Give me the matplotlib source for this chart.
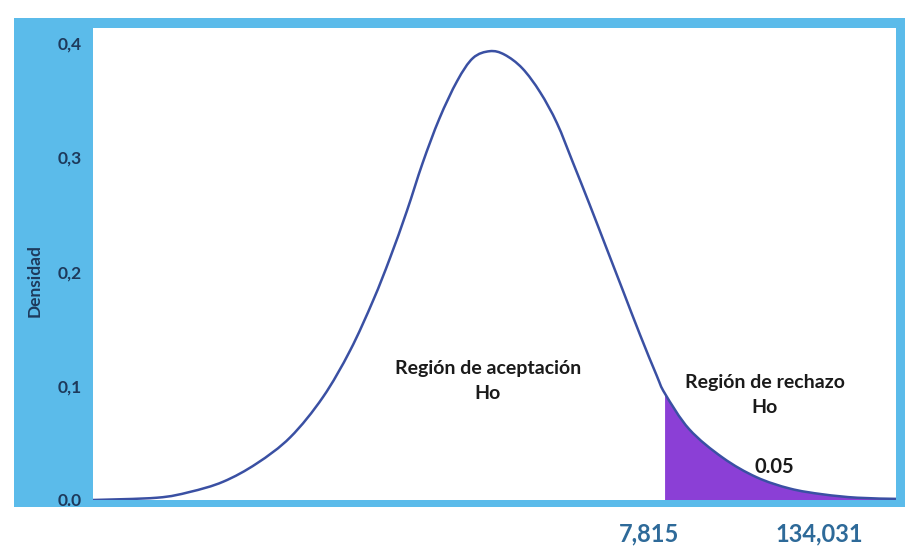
import matplotlib
matplotlib.use("Agg")
import matplotlib.pyplot as plt
from matplotlib.patches import Rectangle, PathPatch
from matplotlib.path import Path
import numpy as np

# ---- data ----
x_vals = [-3.78, -3.17, -2.86, -2.54, -2.22, -1.90, -1.59, -1.33, -1.11, -0.95,
          -0.79, -0.64, -0.48, -0.31, -0.16, 0.00, 0.14, 0.31, 0.48,
          0.64, 0.79, 0.95, 1.11, 1.27, 1.43, 1.59, 1.67, 1.90, 2.22, 2.54,
          2.86, 3.17, 3.50, 3.87]
density = [0.000, 0.002, 0.007, 0.016, 0.032, 0.055, 0.090, 0.131, 0.175, 0.212,
           0.253, 0.295, 0.334, 0.367, 0.387, 0.393, 0.390, 0.378, 0.357,
           0.330, 0.296, 0.259, 0.221, 0.183, 0.145, 0.109, 0.093, 0.062, 0.037, 0.020,
           0.010, 0.005, 0.002, 0.001]
critical = 1.67
y_ticks = [0.0, 0.1, 0.2, 0.3, 0.4]
y_tick_labels = ["0.0", "0,1", "0,2", "0,3", "0,4"]
x_tick_pos = [1.52, 3.14]
x_tick_labels = ["7,815", "134,031"]
alpha_label = "0.05"
accept_label = "Región de aceptación\nHo"
reject_label = "Región de rechazo\nHo"
y_label = "Densidad"

# ---- styling ----
FRAME = "#5BBBEA"
LINE = "#3A50A3"
FILL = "#8B3FD6"
NAVY = "#1E3A5C"
XLAB = "#2E6A99"
FONT = "Lato"

W, H = 906, 560
fig = plt.figure(figsize=(W / 100, H / 100), dpi=100, facecolor="white")

fig.patches.append(Rectangle((14 / W, 1 - 507 / H), (905 - 14) / W, (507 - 18) / H,
                             transform=fig.transFigure, facecolor=FRAME,
                             edgecolor="none", zorder=0))

ax = fig.add_axes([93 / W, 1 - 500 / H, (896 - 93) / W, (500 - 28) / H])
ax.set_facecolor("white")
ax.set_zorder(1)
ax.set_xlim(-3.78, 3.87)
ax.set_ylim(0, 0.4133)

xa = np.array(x_vals)
ya = np.array(density)


def smooth_segments(xs, ys, prev=None):
    """Catmull-Rom curve through the read points as cubic Bezier path pieces."""
    n = len(xs)
    verts, codes = [(xs[0], ys[0])], [Path.MOVETO]
    for i in range(n - 1):
        if i == 0 and prev is not None:
            p0 = np.array(prev)
        else:
            p0 = np.array([xs[max(i - 1, 0)], ys[max(i - 1, 0)]])
        p1 = np.array([xs[i], ys[i]])
        p2 = np.array([xs[i + 1], ys[i + 1]])
        p3 = np.array([xs[min(i + 2, n - 1)], ys[min(i + 2, n - 1)]])
        c1 = p1 + (p2 - p0) / 6.0
        c2 = p2 - (p3 - p1) / 6.0
        verts += [tuple(c1), tuple(c2), tuple(p2)]
        codes += [Path.CURVE4] * 3
    return verts, codes


verts, codes = smooth_segments(xa, ya)
ax.add_patch(PathPatch(Path(verts, codes), facecolor="none", edgecolor=LINE,
                       lw=1.8, zorder=3, capstyle="round", joinstyle="round"))

# shaded rejection region under the curve
k = int(np.where(np.isclose(xa, critical))[0][0])
fv, fc = smooth_segments(xa[k:], ya[k:], prev=(xa[k - 1], ya[k - 1]))
fv = list(fv) + [(xa[-1], 0.0), (xa[k], 0.0), (xa[k], ya[k])]
fc = list(fc) + [Path.LINETO, Path.LINETO, Path.CLOSEPOLY]
ax.add_patch(PathPatch(Path(fv, fc), facecolor=FILL, edgecolor="none", zorder=2))

for s in ax.spines.values():
    s.set_visible(False)

ax.set_yticks(y_ticks)
ax.set_yticklabels(y_tick_labels, fontfamily=FONT, fontweight="bold",
                   fontsize=12.5, color=NAVY)
ax.tick_params(axis="y", length=0, pad=8)
ax.set_xticks(x_tick_pos)
ax.set_xticklabels(x_tick_labels, fontfamily=FONT, fontweight="bold",
                   fontsize=17, color=XLAB)
ax.tick_params(axis="x", length=0, pad=16)

fig.text(35 / W, 1 - 281 / H, y_label, rotation=90, ha="center", va="center",
         fontfamily=FONT, fontweight="bold", fontsize=12.5, color=NAVY)

txt_kw = dict(fontfamily=FONT, fontweight="bold", fontsize=14, color="#1a1a1a",
              ha="center", va="center", linespacing=1.55)
ax.text(-0.02, 0.104, accept_label, **txt_kw)
ax.text(2.62, 0.092, reject_label, **txt_kw)
ax.text(2.71, 0.029, alpha_label, fontfamily=FONT, fontweight="bold",
        fontsize=14.5, color="#1a1a1a", ha="center", va="center")

fig.savefig("out.png", dpi=100, facecolor="white")
